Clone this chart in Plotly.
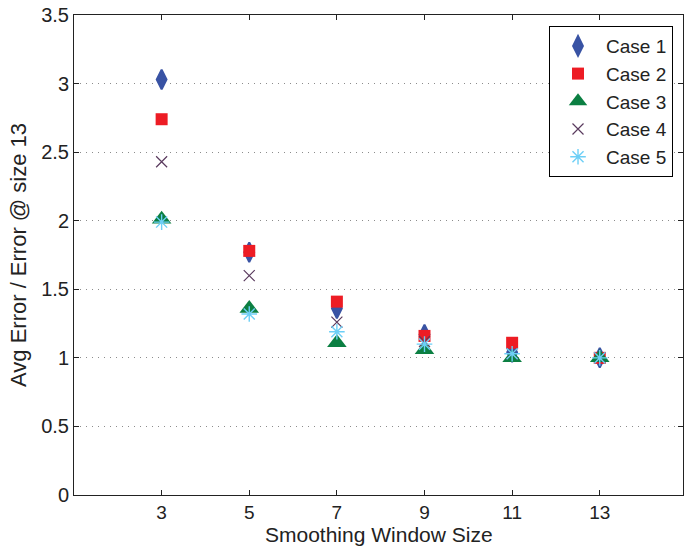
import plotly.graph_objects as go

window_sizes = [3, 5, 7, 9, 11, 13]
case1 = [3.03, 1.77, 1.36, 1.17, 1.04, 1.00]
case2 = [2.74, 1.78, 1.41, 1.16, 1.11, 1.00]
case3 = [2.01, 1.36, 1.11, 1.06, 1.00, 1.00]
case4 = [2.43, 1.60, 1.26, 1.12, 1.03, 1.00]
case5 = [1.99, 1.32, 1.19, 1.10, 1.03, 1.00]
y_ticks = [0, 0.5, 1, 1.5, 2, 2.5, 3, 3.5]
y_tick_labels = ["0", "0.5", "1", "1.5", "2", "2.5", "3", "3.5"]

series = [
    ("Case 1", case1, "diamond-tall", "#3953a4", 14, 2),
    ("Case 2", case2, "square", "#ed1c24", 12, 0),
    ("Case 3", case3, "triangle-up", "#0b7f42", 17, 0),
    ("Case 4", case4, "x-thin-open", "#5a3a5e", 11, 1.2),
    ("Case 5", case5, "asterisk-open", "#6dcff6", 13, 1.4),
]

fig = go.Figure()
for name, vals, sym, col, size, lw in series:
    fig.add_trace(go.Scatter(
        x=window_sizes, y=vals, mode="markers", name=name,
        marker=dict(symbol=sym, color=col, size=size,
                    line=dict(color=col, width=lw)),
    ))

family = "Liberation Sans, Arial, sans-serif"
fig.update_layout(
    width=688, height=546,
    margin=dict(l=74, r=5, t=15, b=51),
    paper_bgcolor="white", plot_bgcolor="white",
    font=dict(family=family, size=20, color="#222"),
    showlegend=True,
    legend=dict(
        x=0.9836, y=0.977, xanchor="right", yanchor="top",
        bordercolor="black", borderwidth=1, bgcolor="white",
        font=dict(family=family, size=19, color="#222"),
        itemsizing="trace", itemwidth=46, tracegroupgap=0,
    ),
    xaxis=dict(
        range=[1, 14.9], tickvals=window_sizes,
        ticks="inside", ticklen=5, tickcolor="#222",
        tickfont=dict(size=19),
        showline=True, linecolor="#222", linewidth=1, mirror="ticks",
        showgrid=False, zeroline=False, automargin=False,
    ),
    yaxis=dict(
        range=[0, 3.5], tickvals=y_ticks, ticktext=y_tick_labels,
        ticks="inside", ticklen=5, tickcolor="#222",
        showline=True, linecolor="#222", linewidth=1, mirror="ticks",
        showgrid=True, gridcolor="#8c8c8c", griddash="1px,5px", gridwidth=1,
        zeroline=False, automargin=False,
        title=dict(text="Avg Error / Error @ size 13", standoff=8,
                   font=dict(size=22, color="#222")),
    ),
    annotations=[dict(
        text="Smoothing Window Size", xref="paper", yref="paper",
        x=0.5, y=0, xanchor="center", yanchor="bottom", yshift=-53,
        showarrow=False, font=dict(family=family, size=21, color="#222"),
    )],
)

fig.write_html("out.html")
